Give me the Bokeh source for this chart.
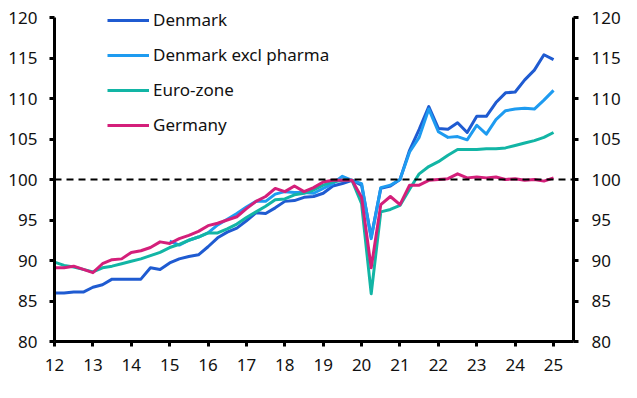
import numpy as np
from bokeh.plotting import figure
from bokeh.models import (LinearAxis, FixedTicker, Range1d, Span, Legend, LegendItem,
                          ColumnDataSource)
from bokeh.embed import file_html
from bokeh.resources import INLINE

# Quarterly, 2012 Q1 .. 2025 Q1 (x = year - 2000)
quarters = [12 + i * 0.25 for i in range(53)]

denmark = [86.0, 86.0, 86.1, 86.1, 86.7, 87.0, 87.7, 87.7, 87.7, 87.7, 89.1, 88.9,
           89.7, 90.2, 90.5, 90.7, 91.7, 92.8, 93.5, 94.0, 94.9, 95.9, 95.8, 96.5,
           97.3, 97.4, 97.8, 97.9, 98.3, 99.2, 99.5, 99.9, 99.3, 92.9, 98.9, 99.2,
           100.0, 103.6, 106.2, 109.0, 106.3, 106.2, 107.0, 105.8, 107.8, 107.8, 109.5,
           110.7, 110.8, 112.3, 113.5, 115.4, 114.8]

denmark_excl_pharma = [None] * 12 + [
           92.4, 91.9, 92.5, 92.9, 93.4, 94.4, 95.1, 95.8, 96.6, 97.3, 97.3, 98.2,
           98.5, 98.4, 98.4, 98.3, 98.9, 99.5, 100.4, 99.9, 99.5, 92.7, 99.0, 99.3,
           100.0, 103.4, 105.2, 108.7, 105.9, 105.2, 105.3, 104.9, 106.7, 105.6, 107.4,
           108.5, 108.7, 108.8, 108.7, 109.8, 111.0]

euro_zone = [89.8, 89.4, 89.2, 88.9, 88.6, 89.1, 89.3, 89.6, 89.9, 90.2, 90.6, 91.0,
             91.6, 92.0, 92.5, 92.9, 93.4, 93.4, 93.9, 94.5, 95.3, 96.0, 96.7, 97.5,
             97.6, 98.1, 98.3, 98.7, 99.3, 99.7, 99.9, 99.9, 97.0, 85.9, 96.0, 96.3,
             96.8, 98.8, 100.7, 101.6, 102.2, 103.0, 103.7, 103.7, 103.7, 103.8, 103.8,
             103.9, 104.2, 104.5, 104.8, 105.2, 105.8]

germany = [89.1, 89.1, 89.3, 88.9, 88.5, 89.6, 90.1, 90.2, 91.0, 91.2, 91.6, 92.3,
           92.1, 92.7, 93.1, 93.6, 94.3, 94.6, 95.0, 95.4, 96.4, 97.3, 97.9, 98.9,
           98.5, 99.2, 98.5, 99.0, 99.7, 99.9, 99.9, 99.9, 97.8, 89.1, 96.9, 97.9,
           96.9, 99.3, 99.3, 99.9, 100.0, 100.1, 100.7, 100.2, 100.3, 100.2, 100.3,
           100.0, 100.1, 99.9, 100.0, 99.8, 100.2]

series_names = ["Denmark", "Denmark excl pharma", "Euro-zone", "Germany"]
series_colors = ["#1F5BD1", "#1E9BF0", "#12B5A5", "#D41F7A"]
x_ticks = list(range(12, 26))
y_ticks = list(range(80, 121, 5))

FONT = "Noto Sans"

p = figure(frame_width=519, frame_height=336, output_backend="svg", toolbar_location=None,
           x_range=Range1d(12, 25.52), y_range=Range1d(80, 120 + 12 / 8.1),
           min_border_left=54, min_border_right=56, min_border_top=5, min_border_bottom=49)
p.outline_line_color = None
p.xgrid.visible = False
p.ygrid.visible = False
p.background_fill_color = None
p.border_fill_color = "white"

def style_axis(ax, standoff):
    ax.axis_line_width = 3
    ax.axis_line_color = "black"
    ax.major_tick_line_width = 3
    ax.major_tick_line_color = "black"
    ax.major_tick_in = 0
    ax.major_tick_out = 5
    ax.minor_tick_line_color = None
    ax.major_label_text_font = FONT
    ax.major_label_text_font_size = "17px"
    ax.major_label_text_color = "#111111"
    ax.major_label_standoff = standoff

p.xaxis.ticker = FixedTicker(ticks=x_ticks)
p.xaxis.major_label_overrides = {t: str(t) for t in x_ticks}
style_axis(p.xaxis[0], 12)
p.yaxis.ticker = FixedTicker(ticks=y_ticks)
p.yaxis.bounds = (80, 120)
style_axis(p.yaxis[0], 12)

right = LinearAxis(ticker=FixedTicker(ticks=y_ticks), bounds=(80, 120))
style_axis(right, 13)
p.add_layout(right, "right")

all_series = [denmark, denmark_excl_pharma, euro_zone, germany]
renderers = []
for name, vals, col in zip(series_names, all_series, series_colors):
    y = np.array([np.nan if v is None else v for v in vals], dtype=float)
    src = ColumnDataSource(dict(x=quarters, y=y))
    r = p.line("x", "y", source=src, line_color=col, line_width=3, line_join="round")
    renderers.append(r)

p.add_layout(Span(location=100, dimension="width", line_color="black",
                  line_width=2, line_dash="7 5"))

legend = Legend(items=[LegendItem(label=n, renderers=[r]) for n, r in zip(series_names, renderers)],
                location=(53, 205), orientation="vertical",
                glyph_width=42, glyph_height=20, label_height=20, spacing=12,
                label_standoff=4, padding=0, margin=0,
                label_text_font=FONT, label_text_font_size="17px", label_text_color="#111111",
                border_line_color=None, background_fill_color=None)
p.add_layout(legend, "center")

open("out.html", "w").write(file_html(p, INLINE))
